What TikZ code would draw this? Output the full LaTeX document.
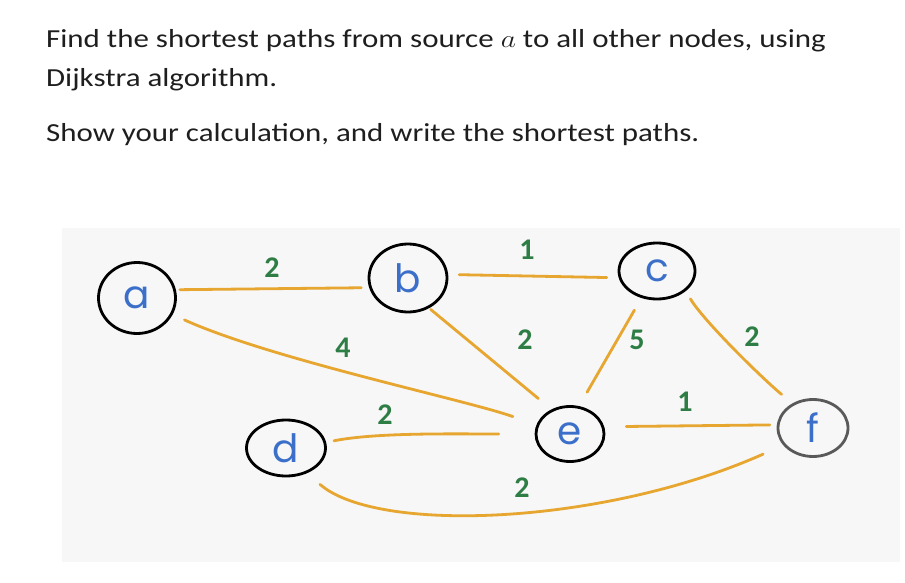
\documentclass[tikz,border=0pt]{standalone}
\usepackage{graphicx}
\usepackage{fontspec}
\setmainfont{Carlito}
\newfontfamily\qfont[FakeStretch=1.19]{Carlito}
\newfontfamily\handfont{Poppins}
\usetikzlibrary{shapes.geometric}
\definecolor{edgeor}{HTML}{E6A630}
\definecolor{lblgreen}{HTML}{2E7D45}
\definecolor{letblue}{HTML}{3B6FC9}
\definecolor{bggray}{HTML}{F7F7F7}
\definecolor{qcol}{HTML}{1E1E1E}
\tikzset{
  vert/.style={draw=black, line width=2.8pt, ellipse, inner sep=0pt,
    font=\handfont\fontsize{39}{40}\selectfont, text=letblue},
  edge/.style={draw=edgeor, line width=2.8pt, line cap=round},
  wlabel/.style={text=lblgreen, font=\fontsize{30}{32}\selectfont\bfseries, inner sep=0pt},
  qtext/.style={anchor=base west, inner sep=0pt, font=\qfont\fontsize{26}{30}\selectfont, text=qcol}
}
\begin{document}
\begin{tikzpicture}[x=1pt,y=-1pt]
\useasboundingbox (0,0) rectangle (905,583);
\fill[bggray] (62,228) rectangle (900,562);

\node[qtext] (q1) at (46,48) {Find the shortest paths from source \scalebox{1.19}[1]{$a$} to all other nodes, using};
\node[qtext] (q2) at (46,87) {Dijkstra algorithm.};
\node[qtext] (q3) at (46,142) {Show your calculation, and write the shortest paths.};

\node[vert, minimum width=77pt, minimum height=71pt] (a) at (137,298) {a};
\node[vert, minimum width=78pt, minimum height=68pt] (b) at (408,278) {b};
\node[vert, minimum width=76pt, minimum height=56pt] (c) at (657,271) {c};
\node[vert, minimum width=79pt, minimum height=56pt] (d) at (286,448) {d};
\node[vert, minimum width=68pt, minimum height=55pt] (e) at (570,434) {e};
\node[vert, draw=black!65, minimum width=70pt, minimum height=57pt] (f) at (813,428) {f};

\draw[edge, shorten <=4pt, shorten >=8pt] (a.12) -- (b.194);
\draw[edge, shorten <=11pt, shorten >=12pt] (b.5) -- (c.190);
\draw[edge, shorten <=13pt, shorten >=25pt] (a.-25) .. controls +(100,45) and +(-70,-25) .. (e.165);
\draw[edge, shorten <=2pt, shorten >=17pt] (b.-55) -- (e.127);
\draw[edge, shorten <=14pt, shorten >=16pt] (c.-120) -- (e.72);
\draw[edge, shorten <=9pt, shorten >=14pt] (c.-35) .. controls +(18,30) and +(-30,-25) .. (f.130);
\draw[edge, shorten <=8pt, shorten >=36pt] (d.8) .. controls +(50,-10) and +(-80,0) .. (e.180);
\draw[edge, shorten <=22pt, shorten >=7pt] (e.12) -- (f.175);
\draw[edge, shorten <=17pt, shorten >=22pt] (d.-50) .. controls +(70,61) and +(-180,80) .. (f.-150);

\node[wlabel] (lab) at (272,268) {2};
\node[wlabel] (lbc) at (527,250) {1};
\node[wlabel] (lae) at (343,348) {4};
\node[wlabel] (lbe) at (525,340) {2};
\node[wlabel] (lce) at (637,340) {5};
\node[wlabel] (lcf) at (752,337) {2};
\node[wlabel] (lde) at (385,415) {2};
\node[wlabel] (lef) at (685,402) {1};
\node[wlabel] (ldf) at (522,488) {2};
\end{tikzpicture}
\end{document}
